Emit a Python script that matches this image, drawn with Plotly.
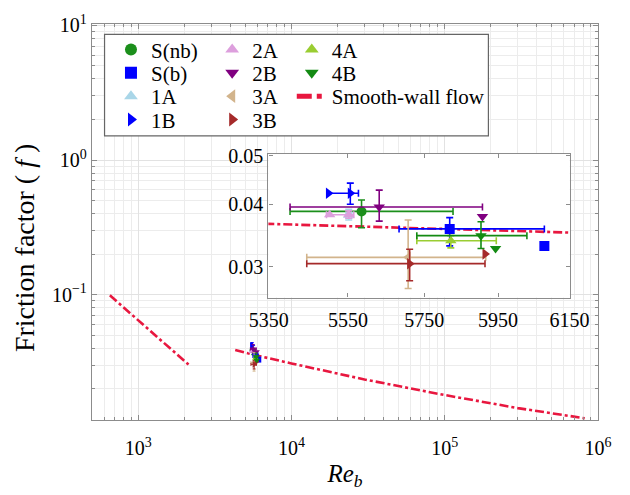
import math
import plotly.graph_objects as go

# ---------------- data ----------------
names = ["S(nb)", "S(b)", "1A", "1B", "2A", "2B", "3A", "3B", "4A", "4B"]
colors = ["#1b8f1b", "#0000ff", "#a9d6e8", "#0000ff", "#dd9fdd", "#800080",
          "#d2b48c", "#a52a2a", "#9acd32", "#138a13"]
symbols = ["circle", "square", "triangle-up", "triangle-right", "triangle-up",
           "triangle-down", "triangle-left", "triangle-right", "triangle-up", "triangle-down"]

# main point of each case (with error bars)
re_b = [5585, 5818, 5552, 5556, 5552, 5631, 5707, 5711, 5821, 5903]
f_val = [0.0387, 0.0357, 0.0380, 0.0421, 0.0381, 0.0395, 0.0313, 0.0304, 0.0338, 0.0346]
re_lo = [5403, 5683, 5545, 5497, 5495, 5403, 5445, 5445, 5730, 5730]
re_hi = [5827, 6079, 5560, 5577, 5565, 5907, 5916, 5914, 5945, 6030]
f_lo = [0.0359, 0.0330, 0.0372, 0.0400, 0.0375, 0.0370, 0.0271, 0.0281, 0.0327, 0.0326]
f_hi = [0.0408, 0.0376, 0.0391, 0.0441, 0.0388, 0.0427, 0.0372, 0.0325, 0.0346, 0.0369]

# additional points without error bars
extra_re = [None, 6079, None, 5500, 5503, 5907, None, 5914, None, 5943]
extra_f = [None, 0.0330, None, 0.0421, 0.0381, 0.0378, None, 0.0318, None, 0.0326]

# smooth-wall flow curve (laminar branch, gap, turbulent branch)
smooth_re = [654, 2133, None, 4300, 5350, 6150, 10000, 30000, 100000, 300000, 820000]
smooth_f = [0.099, 0.0303, None, 0.0389, 0.0365, 0.0351, 0.0309, 0.0235, 0.0180, 0.0144, 0.0121]

x_ticks_main = [1e3, 1e4, 1e5, 1e6]
x_ticktext_main = ["10<sup>3</sup>", "10<sup>4</sup>", "10<sup>5</sup>", "10<sup>6</sup>"]
y_ticks_main = [0.1, 1, 10]
y_ticktext_main = ["10<sup>\u22121</sup>", "10<sup>0</sup>", "10<sup>1</sup>"]
x_ticks_inset = [5350, 5550, 5750, 5950, 6150]
y_ticks_inset = [0.03, 0.04, 0.05]

# legend grid placement (column, row) of each entry; last one = smooth-wall flow
legend_col = [0, 0, 0, 0, 1, 1, 1, 1, 2, 2, 2]
legend_row = [0, 1, 2, 3, 0, 1, 2, 3, 0, 1, 2]

# ---------------- figure ----------------
RED = "#e8173f"
FONT = "Liberation Serif"
FRAME = "#8c8c8c"
COL_X = [0.0375, 0.2375, 0.3948]
ROW_Y = [0.9864, 0.9275, 0.8687, 0.8098]


def leg_id(k):
    return "legend" if k == 0 else "legend%d" % (k + 1)


fig = go.Figure()

fig.add_trace(go.Scatter(x=smooth_re, y=smooth_f, mode="lines", name="Smooth-wall flow",
                         line=dict(color=RED, width=2.6, dash="dashdot"),
                         legend=leg_id(10), legendgroup="smooth",
                         xaxis="x", yaxis="y", connectgaps=False))
fig.add_trace(go.Scatter(x=smooth_re, y=smooth_f, mode="lines", name="Smooth-wall flow",
                         line=dict(color=RED, width=2.6, dash="dashdot"),
                         showlegend=False, legendgroup="smooth",
                         xaxis="x2", yaxis="y2", connectgaps=False))

for i, nm in enumerate(names):
    ex = dict(type="data", symmetric=False, array=[re_hi[i] - re_b[i]],
              arrayminus=[re_b[i] - re_lo[i]], color=colors[i])
    ey = dict(type="data", symmetric=False, array=[f_hi[i] - f_val[i]],
              arrayminus=[f_val[i] - f_lo[i]], color=colors[i])
    for ax, sz, th, w, show in (("", 6, 1.0, 1.5, False), ("2", 10, 1.6, 3.5, True)):
        fig.add_trace(go.Scatter(
            x=[re_b[i]], y=[f_val[i]], mode="markers", name=nm,
            marker=dict(symbol=symbols[i], color=colors[i], size=sz),
            error_x=dict(ex, thickness=th, width=w),
            error_y=dict(ey, thickness=th, width=w),
            legendgroup=nm, showlegend=show, legend=leg_id(i),
            xaxis="x" + ax, yaxis="y" + ax))
        if extra_re[i] is not None:
            fig.add_trace(go.Scatter(
                x=[extra_re[i]], y=[extra_f[i]], mode="markers", name=nm,
                marker=dict(symbol=symbols[i], color=colors[i], size=sz),
                legendgroup=nm, showlegend=False,
                xaxis="x" + ax, yaxis="y" + ax))

minor_x = [k * 10 ** n for n in range(2, 6) for k in range(2, 10)]
minor_y = [k * 10 ** n for n in range(-2, 1) for k in range(2, 10)]

axis_common = dict(showline=True, linecolor=FRAME, linewidth=1.3, mirror="allticks",
                   ticks="inside", tickcolor=FRAME, zeroline=False,
                   tickfont=dict(family=FONT, size=20, color="black"))

fig.update_layout(
    width=630, height=495,
    margin=dict(l=92, r=13, t=13, b=64),
    paper_bgcolor="white", plot_bgcolor="white",
    font=dict(family=FONT, size=20, color="black"),
    xaxis=dict(axis_common, type="log", range=[math.log10(500), 6.0005],
               tickvals=x_ticks_main, ticktext=x_ticktext_main, ticklen=5,
               ticklabelstandoff=10,
               showgrid=True, gridcolor="#e2e2e2", gridwidth=1,
               minor=dict(tickmode="array", tickvals=minor_x, ticks="inside", ticklen=3,
                          tickcolor=FRAME, showgrid=True, gridcolor="#ececec"),
               title=dict(text="<i>Re</i><sub><i>b</i></sub>",
                          font=dict(family=FONT, size=25), standoff=6)),
    yaxis=dict(axis_common, type="log", range=[-1.93, 1.01],
               tickvals=y_ticks_main, ticktext=y_ticktext_main, ticklen=5,
               showgrid=True, gridcolor="#e2e2e2", gridwidth=1,
               minor=dict(tickmode="array", tickvals=minor_y, ticks="inside", ticklen=3,
                          tickcolor=FRAME, showgrid=True, gridcolor="#ececec")),
    xaxis2=dict(axis_common, type="log", domain=[0.3486, 0.9442], anchor="y2",
                range=[math.log10(5349), math.log10(6151)],
                tickvals=x_ticks_inset, ticktext=[str(v) for v in x_ticks_inset],
                ticklen=4, ticklabelstandoff=4, showgrid=False),
    yaxis2=dict(axis_common, type="log", domain=[0.3093, 0.6722], anchor="x2",
                range=[math.log10(0.026), math.log10(0.0505)],
                tickvals=y_ticks_inset, ticktext=["%.2f" % v for v in y_ticks_inset],
                ticklen=4, showgrid=False),
    showlegend=True,
)

# y-axis title (placed as in the reference, slightly below the axis centre)
fig.add_annotation(text="Friction factor ( <i>f</i> )", xref="paper", yref="paper",
                   x=-0.1333, y=0.433, xanchor="center", yanchor="middle",
                   textangle=-90, showarrow=False,
                   font=dict(family=FONT, size=28, color="black"))

for k in range(11):
    fig.update_layout({leg_id(k): dict(
        bgcolor="rgba(0,0,0,0)", borderwidth=0, xanchor="left", yanchor="top",
        itemsizing="constant", font=dict(family=FONT, size=21, color="black"),
        orientation="v", x=COL_X[legend_col[k]], y=ROW_Y[legend_row[k]])})

# legend frame
fig.add_shape(type="rect", xref="paper", yref="paper", x0=0.0248, x1=0.7834,
              y0=0.7177, y1=0.9737, line=dict(color="#666666", width=1.2),
              fillcolor="white", layer="above")

fig.write_html("out.html")
